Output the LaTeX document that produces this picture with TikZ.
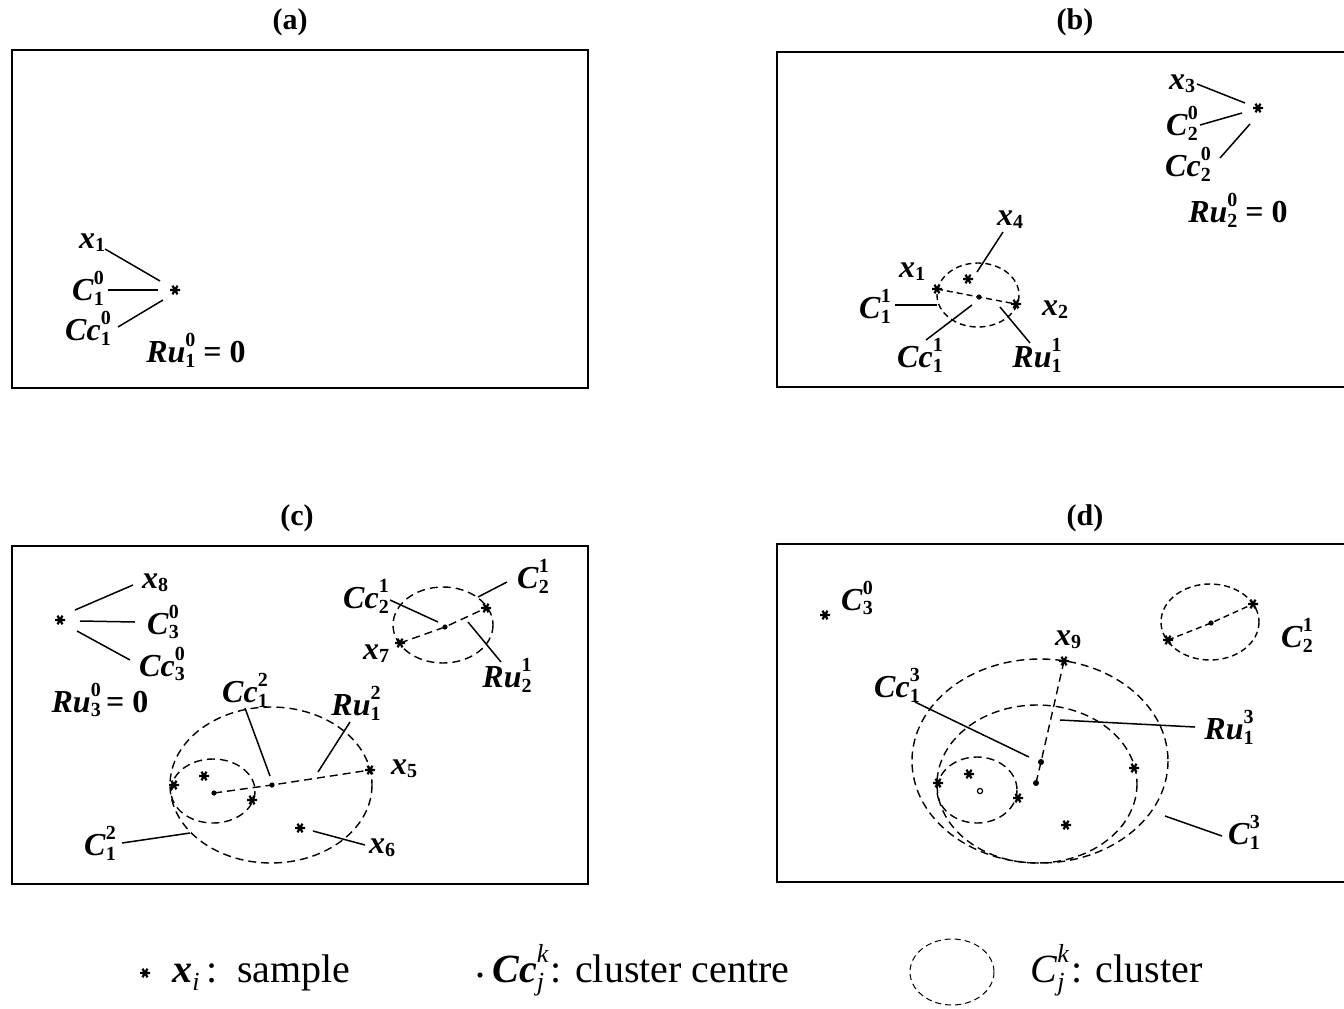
\documentclass[tikz,border=0pt]{standalone}
\usepackage{fontspec}
\setmainfont{Liberation Serif}
\newcommand{\bi}[1]{\textbf{\textit{#1}}}
\newcommand{\lbsub}[2]{\makebox[0pt][l]{\raisebox{0.5em}{\fontsize{10}{10}\selectfont\bfseries #2}}\raisebox{-0.15em}{\fontsize{10}{10}\selectfont\bfseries #1}}
\newcommand{\onlysub}[1]{\raisebox{-0.1em}{\fontsize{10}{10}\selectfont\bfseries #1}}
\newcommand{\lgsub}[2]{\makebox[0pt][l]{\raisebox{0.5em}{\fontsize{13}{13}\selectfont\itshape #2}}\raisebox{-0.2em}{\fontsize{13}{13}\selectfont\itshape #1}}
\tikzset{
  lab/.style={inner sep=0.5pt, font=\fontsize{16}{18}\selectfont},
  ttl/.style={inner sep=1pt, font=\fontsize{15}{17}\selectfont\bfseries},
  lgd/.style={inner sep=1pt, anchor=base west, font=\fontsize{20}{22}\selectfont},
  lead/.style={line width=0.75pt},
  frame/.style={line width=1pt},
  dsh/.style={dash pattern=on 4pt off 2.5pt, line width=0.7pt},
  dshs/.style={dash pattern=on 3pt off 2pt, line width=0.7pt},
  astk/.pic={\draw[line width=1.1pt] (-5,0)--(5,0) (-2.5,-4.3)--(2.5,4.3) (-2.5,4.3)--(2.5,-4.3);},
  cdot/.style={fill=black}
}
\begin{document}
\begin{tikzpicture}[x=0.5pt,y=-0.5pt]
\useasboundingbox (0,0) rectangle (1344,1008);
\clip (0,0) rectangle (1344,1008);
\fill[white] (0,0) rectangle (1344,1008);

% ---------- titles ----------
\node[ttl] (ta) at (290,22) {(a)};
\node[ttl] (tb) at (1075,22) {(b)};
\node[ttl] (tc) at (297,518) {(c)};
\node[ttl] (td) at (1085,518) {(d)};

% ---------- frames ----------
\draw[frame] (12,50) rectangle (588,388);
\draw[frame] (777,52) rectangle (1360,387);
\draw[frame] (12,546) rectangle (588,884);
\draw[frame] (777,544) rectangle (1360,882);

% ---------- panel (a) ----------
\coordinate (sa1) at (175,290);
\pic at (sa1) {astk};
\node[lab] (ax1) at (92,243) {\bi{x}\onlysub{1}};
\node[lab] (aC) at (88,288) {\bi{C}\lbsub{1}{0}};
\node[lab] (aCc) at (88,328) {\bi{Cc}\lbsub{1}{0}};
\node[lab] (aRu) at (196,350) {\bi{Ru}\lbsub{1}{0}\ \textbf{= 0}};
\coordinate (a1s) at (105,249); \coordinate (a1e) at (160,281);
\coordinate (a2s) at (108,290); \coordinate (a2e) at (158,290);
\coordinate (a3s) at (118,327); \coordinate (a3e) at (163,300);
\draw[lead] (a1s) -- (a1e);
\draw[lead] (a2s) -- (a2e);
\draw[lead] (a3s) -- (a3e);

% ---------- panel (b) ----------
\coordinate (sb3) at (1258,108);
\pic at (sb3) {astk};
\node[lab] (bx3) at (1182,84) {\bi{x}\onlysub{3}};
\node[lab] (bC) at (1182,123) {\bi{C}\lbsub{2}{0}};
\node[lab] (bCc) at (1188,164) {\bi{Cc}\lbsub{2}{0}};
\node[lab] (bRu) at (1238,210) {\bi{Ru}\lbsub{2}{0}\ \textbf{= 0}};
\coordinate (b1s) at (1197,84); \coordinate (b1e) at (1245,103);
\coordinate (b2s) at (1200,125); \coordinate (b2e) at (1242,113);
\coordinate (b3s) at (1220,158); \coordinate (b3e) at (1250,124);
\draw[lead] (b1s) -- (b1e);
\draw[lead] (b2s) -- (b2e);
\draw[lead] (b3s) -- (b3e);

\coordinate (bcl) at (978,295);
\draw[dshs] (bcl) ellipse [x radius=41, y radius=32];
\coordinate (bx1s) at (937,289);
\coordinate (bx2s) at (1016,304);
\coordinate (bx4s) at (968,279);
\coordinate (bcc) at (979,297);
\pic at (bx1s) {astk};
\pic at (bx2s) {astk};
\pic at (bx4s) {astk};
\fill[cdot] (bcc) circle[radius=1.3pt];
\draw[dshs] (bx1s) -- (bcc) -- (bx2s);
\node[lab] (bx4) at (1010,220) {\bi{x}\onlysub{4}};
\node[lab] (bx1) at (912,272) {\bi{x}\onlysub{1}};
\node[lab] (bC1) at (875,306) {\bi{C}\lbsub{1}{1}};
\node[lab] (bCc1) at (920,355) {\bi{Cc}\lbsub{1}{1}};
\node[lab] (bRu1) at (1037,355) {\bi{Ru}\lbsub{1}{1}};
\node[lab] (bx2) at (1055,310) {\bi{x}\onlysub{2}};
\coordinate (b4s) at (1003,232); \coordinate (b4e) at (977,272);
\coordinate (b5s) at (895,305); \coordinate (b5e) at (937,305);
\coordinate (b6s) at (926,340); \coordinate (b6e) at (972,305);
\coordinate (b7s) at (1030,343); \coordinate (b7e) at (1000,307);
\draw[lead] (b4s) -- (b4e);
\draw[lead] (b5s) -- (b5e);
\draw[lead] (b6s) -- (b6e);
\draw[lead] (b7s) -- (b7e);

% ---------- panel (c) ----------
\coordinate (sc8) at (60,620);
\pic at (sc8) {astk};
\node[lab] (cx8) at (155,583) {\bi{x}\onlysub{8}};
\node[lab] (cC3) at (163,622) {\bi{C}\lbsub{3}{0}};
\node[lab] (cCc3) at (162,664) {\bi{Cc}\lbsub{3}{0}};
\node[lab] (cRu3) at (100,700) {\bi{Ru}\lbsub{3}{0}\,\textbf{= 0}};
\coordinate (c1s) at (75,610); \coordinate (c1e) at (133,585);
\coordinate (c2s) at (80,621); \coordinate (c2e) at (135,622);
\coordinate (c3s) at (77,631); \coordinate (c3e) at (130,660);
\draw[lead] (c1s) -- (c1e);
\draw[lead] (c2s) -- (c2e);
\draw[lead] (c3s) -- (c3e);

% right cluster
\coordinate (ccl2) at (443,625);
\draw[dsh] (ccl2) ellipse [x radius=50, y radius=38];
\coordinate (cx7s) at (400,643);
\coordinate (cC2s) at (486,608);
\coordinate (cc2) at (445,627);
\pic at (cx7s) {astk};
\pic at (cC2s) {astk};
\fill[cdot] (cc2) circle[radius=1.3pt];
\draw[dsh] (cx7s) -- (cc2) -- (cC2s);
\node[lab] (cCc2) at (366,596) {\bi{Cc}\lbsub{2}{1}};
\node[lab] (cC21) at (533,576) {\bi{C}\lbsub{2}{1}};
\node[lab] (cRu2) at (507,675) {\bi{Ru}\lbsub{2}{1}};
\node[lab] (cx7) at (376,654) {\bi{x}\onlysub{7}};
\coordinate (c4s) at (390,600); \coordinate (c4e) at (438,622);
\coordinate (c5s) at (507,582); \coordinate (c5e) at (478,597);
\coordinate (c6s) at (501,662); \coordinate (c6e) at (468,622);
\draw[lead] (c4s) -- (c4e);
\draw[lead] (c5s) -- (c5e);
\draw[lead] (c6s) -- (c6e);

% bottom cluster
\coordinate (cbig) at (271,785);
\coordinate (csml) at (213,791);
\draw[dsh] (cbig) ellipse [x radius=101, y radius=78];
\draw[dsh] (csml) ellipse [x radius=42, y radius=32];
\coordinate (cs1) at (174,785);
\coordinate (cs2) at (204,776);
\coordinate (cs3) at (252,800);
\coordinate (cx5s) at (370,770);
\coordinate (cx6s) at (300,828);
\foreach \p in {cs1,cs2,cs3,cx5s,cx6s} {\pic at (\p) {astk};}
\coordinate (cdS) at (214,793);
\coordinate (cdB) at (272,785);
\fill[cdot] (cdS) circle[radius=1.3pt];
\fill[cdot] (cdB) circle[radius=1.3pt];
\draw[dsh] (cdS) -- (cdB) -- (cx5s);
\node[lab] (cCc12) at (245,690) {\bi{Cc}\lbsub{1}{2}};
\node[lab] (cRu12) at (356,703) {\bi{Ru}\lbsub{1}{2}};
\node[lab] (cC12) at (100,843) {\bi{C}\lbsub{1}{2}};
\node[lab] (cx5) at (404,769) {\bi{x}\onlysub{5}};
\node[lab] (cx6) at (382,848) {\bi{x}\onlysub{6}};
\coordinate (c7s) at (245,708); \coordinate (c7e) at (270,776);
\coordinate (c8s) at (350,722); \coordinate (c8e) at (318,772);
\coordinate (c9s) at (122,843); \coordinate (c9e) at (190,833);
\coordinate (c10s) at (313,831); \coordinate (c10e) at (365,845);
\draw[lead] (c7s) -- (c7e);
\draw[lead] (c8s) -- (c8e);
\draw[lead] (c9s) -- (c9e);
\draw[lead] (c10s) -- (c10e);

% ---------- panel (d) ----------
\coordinate (dC3s) at (825,615);
\pic at (dC3s) {astk};
\node[lab] (dC3) at (857,598) {\bi{C}\lbsub{3}{0}};

\coordinate (dbig) at (1040,761);
\coordinate (dmid) at (1037,784);
\coordinate (dsml) at (977,790);
\draw[dsh] (dbig) ellipse [x radius=128, y radius=102];
\draw[dsh] (dmid) ellipse [x radius=100, y radius=79];
\draw[dsh] (dsml) ellipse [x radius=40, y radius=33];
\coordinate (dx9s) at (1064,661);
\coordinate (ds1) at (938,783);
\coordinate (ds2) at (969,774);
\coordinate (ds3) at (1018,798);
\coordinate (ds4) at (1134,768);
\coordinate (ds5) at (1066,825);
\foreach \p in {dx9s,ds1,ds2,ds3,ds4,ds5} {\pic at (\p) {astk};}
\coordinate (dcS) at (980,791);
\coordinate (dcM) at (1036,783);
\coordinate (dcB) at (1041,762);
\draw[line width=0.6pt] (dcS) circle[radius=1.3pt];
\fill[cdot] (dcM) circle[radius=1.5pt];
\fill[cdot] (dcB) circle[radius=1.5pt];
\draw[dsh] (dcM) -- (dcB) -- (dx9s);
\node[lab] (dx9) at (1068,640) {\bi{x}\onlysub{9}};
\node[lab] (dCc13) at (897,685) {\bi{Cc}\lbsub{1}{3}};
\node[lab] (dRu13) at (1229,727) {\bi{Ru}\lbsub{1}{3}};
\node[lab] (dC13) at (1244,832) {\bi{C}\lbsub{1}{3}};
\coordinate (d1s) at (915,702); \coordinate (d1e) at (1029,757);
\coordinate (d2s) at (1060,720); \coordinate (d2e) at (1195,727);
\coordinate (d3s) at (1165,816); \coordinate (d3e) at (1222,836);
\draw[lead] (d1s) -- (d1e);
\draw[lead] (d2s) -- (d2e);
\draw[lead] (d3s) -- (d3e);

\coordinate (dcl2) at (1210,622);
\draw[dshs] (dcl2) ellipse [x radius=49, y radius=38];
\coordinate (dt1) at (1168,640);
\coordinate (dt2) at (1253,604);
\coordinate (dtc) at (1211,623);
\pic at (dt1) {astk};
\pic at (dt2) {astk};
\fill[cdot] (dtc) circle[radius=1.3pt];
\draw[dshs] (dt1) -- (dtc) -- (dt2);
\node[lab] (dC21) at (1297,635) {\bi{C}\lbsub{2}{1}};

% ---------- legend ----------
\coordinate (lgs) at (145,973);
\pic at (lgs) {astk};
\node[lgd] (lg1) at (170,982) {\bi{x}\raisebox{-0.2em}{\fontsize{13}{13}\selectfont\itshape i}\,:\ \ sample};
\coordinate (lgd2) at (480,975);
\fill[cdot] (lgd2) circle[radius=1.3pt];
\node[lgd] (lg2) at (490,982) {\bi{Cc}\lgsub{j}{k}\,: cluster centre};
\coordinate (lge) at (952,972);
\draw[dshs, line width=0.5pt] (lge) ellipse [x radius=42, y radius=33];
\node[lgd] (lg3) at (1028,982) {\textit{C}\lgsub{j}{k}\,: cluster};
\end{tikzpicture}
\end{document}
